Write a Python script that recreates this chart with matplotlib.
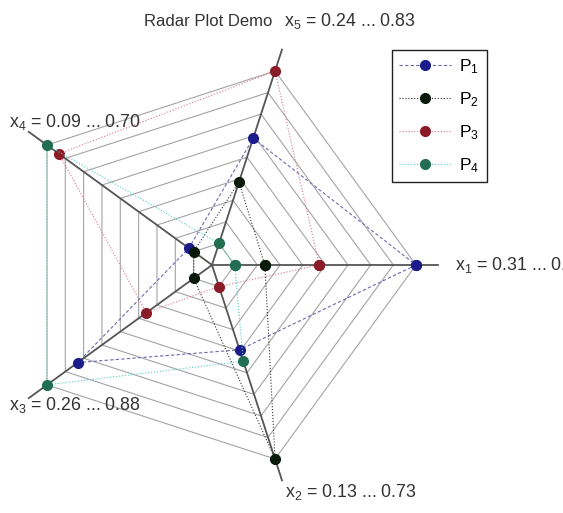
import numpy as np
import matplotlib.pyplot as plt

plt.rcParams["font.family"] = ["Liberation Sans", "DejaVu Sans"]
plt.rcParams["mathtext.fontset"] = "custom"
plt.rcParams["mathtext.rm"] = "Liberation Sans"
plt.rcParams["mathtext.it"] = "Liberation Sans"

# axes of the radar (x1 ... x5) and their value ranges
axis_names = ["x$_1$", "x$_2$", "x$_3$", "x$_4$", "x$_5$"]
axis_min = [0.31, 0.13, 0.26, 0.09, 0.24]
axis_max = [0.91, 0.73, 0.88, 0.70, 0.83]

# values of each series on x1 ... x5
series_names = ["P$_1$", "P$_2$", "P$_3$", "P$_4$"]
p1 = [0.91, 0.35, 0.75, 0.11, 0.60]
p2 = [0.41, 0.73, 0.26, 0.09, 0.45]
p3 = [0.59, 0.13, 0.46, 0.65, 0.83]
p4 = [0.31, 0.39, 0.88, 0.70, 0.24]

n_rings = 9

marker_colors = ["#1c1c8a", "#0a1a0a", "#8a1c28", "#236e52"]
line_colors = ["#6a6ab0", "#303030", "#d87888", "#50d0c0"]
line_styles = [(0, (3, 2)), ":", ":", ":"]

theta = np.deg2rad(-72.0 * np.arange(len(axis_names)))


def to_radius(values):
    """valeur -> rayon : le min tombe sur le 1er anneau, le max sur le dernier"""
    v = np.asarray(values, dtype=float)
    lo = np.asarray(axis_min)
    hi = np.asarray(axis_max)
    frac = (v - lo) / (hi - lo)
    return (1 + (n_rings - 1) * frac) / n_rings


fig = plt.figure(figsize=(5.63, 5.13), dpi=100)
ax = fig.add_axes([0, 0, 1, 1])
# 1 unité = 204 px, centre du radar à (212, 265) px
ax.set_xlim(-212 / 204, 351 / 204)
ax.set_ylim(-248 / 204, 265 / 204)
ax.axis("off")

# toile : pentagones concentriques
closed = np.append(theta, theta[0])
for k in range(1, n_rings + 1):
    r = k / n_rings
    ax.plot(r * np.cos(closed), r * np.sin(closed), color="#a4a4a4", lw=0.8, zorder=1)

# rayons
for t in theta:
    ax.plot([0, 1.11 * np.cos(t)], [0, 1.11 * np.sin(t)], color="#555555", lw=1.3, zorder=2)

# séries
for vals, name, mc, lc, ls in zip([p1, p2, p3, p4], series_names, marker_colors, line_colors, line_styles):
    r = to_radius(vals)
    r = np.append(r, r[0])
    ax.plot(r * np.cos(closed), r * np.sin(closed), ls=ls, color=lc, lw=0.8,
            marker="o", ms=7, mfc=mc, mec=mc, label=name, zorder=3)

# étiquettes des axes (celle de x1 déborde à droite, comme sur l'original)
fs = 12.8
tc = "#333333"
labels = [f"{n} = {lo:.2f} ... {hi:.2f}" for n, lo, hi in zip(axis_names, axis_min, axis_max)]
ax.text(1.19, 0.0, labels[0], ha="left", va="center", fontsize=fs, color=tc)
ax.text(0.36, -1.115, labels[1], ha="left", va="center", fontsize=fs, color=tc)
ax.text(-0.995, -0.685, labels[2], ha="left", va="center", fontsize=fs, color=tc)
ax.text(-0.995, 0.70, labels[3], ha="left", va="center", fontsize=fs, color=tc)
ax.text(0.355, 1.195, labels[4], ha="left", va="center", fontsize=fs, color=tc)

ax.text(-0.02, 1.195, "Radar Plot Demo", ha="center", va="center", fontsize=12, color=tc)

leg = ax.legend(loc="upper left", bbox_to_anchor=(392 / 563, 1 - 50 / 513), borderaxespad=0,
                fontsize=12.5, handlelength=3.0, labelspacing=0.82, borderpad=0.42,
                handletextpad=0.45, fancybox=False, framealpha=1, edgecolor="#222222")
leg.get_frame().set_linewidth(1.0)

fig.savefig("out.png", dpi=100)
